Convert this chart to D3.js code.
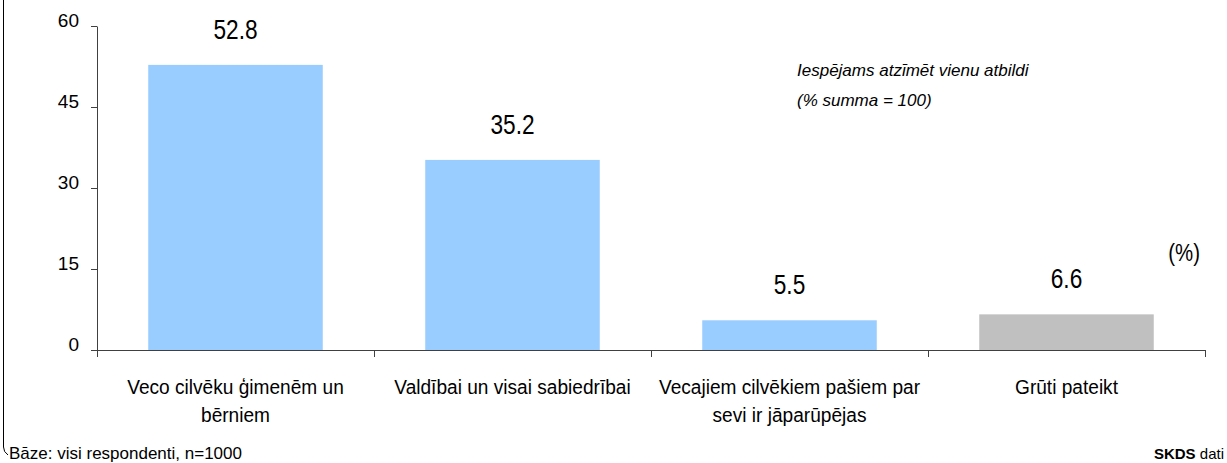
<!DOCTYPE html>
<html>
<head>
<meta charset="utf-8">
<script src="https://cdn.jsdelivr.net/npm/d3@7"></script>
<style>
  body { margin: 0; background: #fff; }
  svg { font-family: "Liberation Sans", Arial, sans-serif; }
  .axis path, .axis line { stroke: #404040; }
  .axis text { font-size: 19px; fill: #000; }
</style>
</head>
<body>
<div id="chart"></div>
<script>
// values
var categories = [
    ["Veco cilvēku ģimenēm un", "bērniem"],
    ["Valdībai un visai sabiedrībai"],
    ["Vecajiem cilvēkiem pašiem par", "sevi ir jāparūpējas"],
    ["Grūti pateikt"]
];
var values = [52.8, 35.2, 5.5, 6.6];
var barColors = ["#99ccff", "#99ccff", "#99ccff", "#c0c0c0"];
var yTicks = [0, 15, 30, 45, 60];

var svgWidth = 1227;
var svgHeight = 463;
var margin = { top: 26, right: 22, bottom: 113, left: 97 };
var width = svgWidth - margin.left - margin.right;
var height = svgHeight - margin.top - margin.bottom;

var svg = d3.select("#chart")
    .append("svg")
    .attr("width", svgWidth)
    .attr("height", svgHeight);

// left frame line with the little curl at the bottom
svg.append("path")
    .attr("d", "M3.5,0 L3.5,447 Q3.5,452 8,455")
    .attr("fill", "none")
    .attr("stroke", "#000")
    .attr("stroke-width", 1);

var chartGroup = svg.append("g")
    .attr("transform", `translate(${margin.left}, ${margin.top})`);

var idx = d3.range(values.length);

var x = d3.scaleBand()
    .domain(idx)
    .range([0, width])
    .paddingInner(0.37)
    .paddingOuter(0.185);

// boundaries between categories for the tick marks
var xEdge = d3.scaleLinear()
    .domain([0, values.length])
    .range([0, width]);

var y = d3.scaleLinear()
    .domain([0, 60])
    .range([height, 0]);

// bars
chartGroup.selectAll("rect.bar")
    .data(values)
    .enter()
    .append("rect")
    .attr("class", "bar")
    .attr("x", (d, i) => x(i))
    .attr("y", d => y(d))
    .attr("width", x.bandwidth())
    .attr("height", d => height - y(d))
    .attr("fill", (d, i) => barColors[i]);

// y axis
chartGroup.append("g")
    .attr("class", "axis")
    .call(d3.axisLeft(y).tickValues(yTicks).tickSize(6).tickSizeOuter(0).tickPadding(12))
    .call(g => g.selectAll("text").attr("dy", "0.05em"));

// x axis
chartGroup.append("g")
    .attr("class", "axis")
    .attr("transform", `translate(0, ${height})`)
    .call(d3.axisBottom(xEdge).tickValues(d3.range(values.length + 1)).tickSize(7).tickSizeOuter(0).tickFormat(""));

// category labels (text in the original is a bit condensed)
var catText = chartGroup.selectAll("g.cat")
    .data(categories)
    .enter()
    .append("g")
    .attr("class", "cat")
    .attr("transform", (d, i) => `translate(${x(i) + x.bandwidth() / 2}, ${height + 44}) scale(0.91, 1)`)
    .append("text")
    .attr("text-anchor", "middle")
    .attr("font-size", 21)
    .attr("fill", "#000");

catText.selectAll("tspan")
    .data(d => d)
    .enter()
    .append("tspan")
    .attr("x", 0)
    .attr("dy", (d, i) => i === 0 ? 0 : 28)
    .text(d => d);

// value labels
chartGroup.selectAll("text.val")
    .data(values)
    .enter()
    .append("text")
    .attr("class", "val")
    .attr("transform", (d, i) => `translate(${x(i) + x.bandwidth() / 2}, ${y(d) - 26}) scale(0.81, 1)`)
    .attr("text-anchor", "middle")
    .attr("font-size", 28)
    .attr("fill", "#000")
    .text(d => d.toFixed(1));

// note
svg.append("text")
    .attr("x", 797)
    .attr("y", 76)
    .attr("font-size", 17)
    .attr("font-style", "italic")
    .text("Iespējams atzīmēt vienu atbildi");

svg.append("text")
    .attr("x", 797)
    .attr("y", 106)
    .attr("font-size", 17)
    .attr("font-style", "italic")
    .text("(% summa = 100)");

svg.append("text")
    .attr("transform", "translate(1200, 261) scale(0.85, 1)")
    .attr("text-anchor", "end")
    .attr("font-size", 24)
    .text("(%)");

// footer
svg.append("text")
    .attr("x", 9)
    .attr("y", 459)
    .attr("font-size", 17)
    .text("Bāze: visi respondenti, n=1000");

var src = svg.append("text")
    .attr("x", 1224)
    .attr("y", 459)
    .attr("text-anchor", "end")
    .attr("font-size", 15);
src.append("tspan").attr("font-weight", "bold").text("SKDS");
src.append("tspan").text(" dati");
</script>
</body>
</html>
